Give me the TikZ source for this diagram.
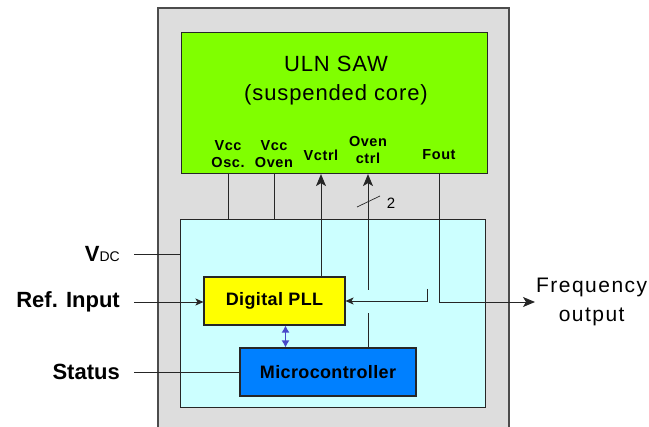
\documentclass[tikz,border=0pt]{standalone}
\usepackage{fontspec}
\setmainfont{Liberation Sans}
\usetikzlibrary{arrows,arrows.meta,positioning,calc}

\definecolor{housing}{HTML}{DDDDDD}
\definecolor{sawgreen}{HTML}{80FF00}
\definecolor{ctlcyan}{HTML}{CCFFFF}
\definecolor{pllyellow}{HTML}{FFFF00}
\definecolor{mcublue}{HTML}{0080FF}
\definecolor{buslink}{HTML}{4848C8}

\begin{document}
\begin{tikzpicture}[
    x=1pt, y=-1pt,
    box/.style={draw=black!85, line width=1.1pt, inner sep=0pt},
    pin/.style={font=\fontsize{14.5}{17}\selectfont\bfseries\addfontfeature{LetterSpace=4}, align=center, inner sep=0pt},
    side/.style={font=\fontsize{22}{24}\selectfont\bfseries, anchor=east, inner ysep=0pt, inner xsep=14pt},
    blocktxt/.style={font=\fontsize{18}{20}\selectfont\bfseries\addfontfeature{LetterSpace=2}},
    wire/.style={draw=black!85, line width=0.9pt},
    sig/.style={wire, -{Stealth[length=12pt,width=10pt,inset=3pt]}},
    sigsmall/.style={wire, -{Stealth[length=8pt,width=7pt,inset=2pt]}},
    link/.style={draw=buslink, line width=1.2pt, {Latex[length=7pt,width=8pt]}-{Latex[length=7pt,width=8pt]}}
]
\useasboundingbox (0,0) rectangle (649,427);

% Housing
\fill [housing] (158,8) rectangle (509,427);
\draw [line width=1.1pt, black!70] (158,427) -- (158,8) -- (509,8) -- (509,427);

% SAW resonator
\node (saw) [box, fill=sawgreen, minimum width=306pt, minimum height=141pt, anchor=north west] at (181,32) {};
\node (sawtxt) [font=\fontsize{22}{29}\selectfont\addfontfeature{LetterSpace=4}, align=center] at (336,81) {ULN SAW\\(suspended core)};

% Pins of the resonator
\node (vosc) [pin] at (228,154) {Vcc\\Osc.};
\node (voven) [pin] at (274,154) {Vcc\\Oven};
\node (vctrl) [pin] at (321,155) {Vctrl};
\node (ovctl) [pin] at (368,150) {Oven\\ctrl};
\node (fout) [pin] at (439,155) {Fout};

% Control board
\node (ctl) [box, fill=ctlcyan, minimum width=305pt, minimum height=188pt, anchor=north west] at (180,219) {};
\node (pll) [box, fill=pllyellow, blocktxt, minimum width=141pt, minimum height=48pt] at (274.5,301) {Digital PLL};
\node (mcu) [box, fill=mcublue, blocktxt, minimum width=176pt, minimum height=48pt] at (328,372) {Microcontroller};

% Outside connections
\node (vdc) [side] at (134,254) {V{\fontsize{14}{16}\selectfont\mdseries DC}};
\node (ref) [side] at (134,302) {Ref. Input};
\node (stat) [side] at (134,372) {Status};
\node (freq) [font=\fontsize{21}{29}\selectfont\addfontfeature{LetterSpace=7}, align=center, anchor=west, inner sep=1pt] at (535,302) {Frequency\\output};

% Supply lines
\draw [wire] (vosc |- saw.south) -- (vosc |- ctl.north);
\draw [wire] (voven |- saw.south) -- (voven |- ctl.north);
\draw [wire] (vdc.east) -- (vdc.east -| ctl.west);

% Tuning and oven control
\draw [sig] (vctrl |- pll.north) -- (vctrl |- saw.south);
\coordinate (hoplo) at (368,313);
\coordinate (hophi) at (368,290);
\draw [wire] (ovctl |- mcu.north) -- (hoplo);
\draw [sig] (hophi) -- (ovctl |- saw.south);
\draw [wire, line width=0.7pt] (357,207) -- (380,196);
\node (bus) [font=\fontsize{15}{17}\selectfont, inner sep=0pt] at (391,203) {2};

% Output and feedback
\coordinate (fbtop) at (427,289);
\draw [sigsmall] (fbtop) |- (pll.east);
\draw [sig] (fout |- saw.south) |- (freq.west);

% Inputs
\draw [sigsmall] (ref.east) -- (ref.east -| pll.west);
\draw [wire] (stat.east) -- (stat.east -| mcu.west);
\draw [link] ([xshift=11pt]pll.south) -- ([xshift=11pt]pll.south |- mcu.north);

\end{tikzpicture}
\end{document}
